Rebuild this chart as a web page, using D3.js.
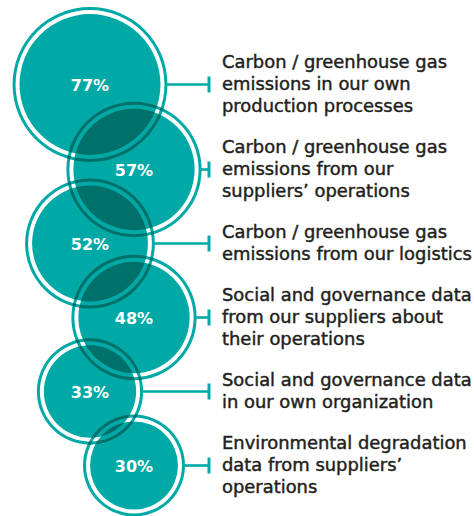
<!DOCTYPE html>
<html><head><meta charset="utf-8">
<script src="https://cdn.jsdelivr.net/npm/d3@7"></script>
<style>
html,body{margin:0;padding:0;background:#fff;}
svg{display:block;}
</style></head>
<body>
<svg id="chart" width="474" height="516"></svg>
<script>
// ---- data ----
const categories = [
  "Carbon / greenhouse gas emissions in our own production processes",
  "Carbon / greenhouse gas emissions from our suppliers’ operations",
  "Carbon / greenhouse gas emissions from our logistics",
  "Social and governance data from our suppliers about their operations",
  "Social and governance data in our own organization",
  "Environmental degradation data from suppliers’ operations"
];
const labelLines = [
  ["Carbon / greenhouse gas", "emissions in our own", "production processes"],
  ["Carbon / greenhouse gas", "emissions from our", "suppliers’ operations"],
  ["Carbon / greenhouse gas", "emissions from our logistics"],
  ["Social and governance data", "from our suppliers about", "their operations"],
  ["Social and governance data", "in our own organization"],
  ["Environmental degradation", "data from suppliers’", "operations"]
];
const values = [77, 57, 52, 48, 33, 30];

// ---- style / layout ----
const teal = "#00a9a5";
const tealDark = "#00706b";   // teal multiplied by itself
const textColor = "#231f20";
const labelX = 222, capH = 11, lineH = 22, blockGap = 30, firstTop = 57;
const colX = [90, 134];
const ringGap = 4, ringW = 3;
const tickX = 209, tickH = 16;
const labelFont = "'DejaVu Sans', Verdana, sans-serif";

const svg = d3.select("#chart");
const defs = svg.append("defs");
const r = d3.scaleSqrt().domain([0, 100]).range([0, 80.3]);

// stacked label blocks -> row centres
let blockTop = firstTop;
const rows = values.map((v, i) => {
  const n = labelLines[i].length;
  const h = capH + (n - 1) * lineH;
  const row = {i, v, lines: labelLines[i], top: blockTop, cy: blockTop + h / 2, cx: colX[i % 2], ri: r(v)};
  row.ro = row.ri + ringGap + ringW;
  blockTop += h + blockGap;
  return row;
});

// ring + disc as one even-odd path
function shapePath(d) {
  const p = d3.path();
  [d.ro, d.ro - ringW, d.ri].forEach(rad => {
    p.moveTo(d.cx + rad, d.cy);
    p.arc(d.cx, d.cy, rad, 0, 2 * Math.PI);
    p.closePath();
  });
  return p.toString();
}

defs.selectAll("clipPath").data(rows).join("clipPath")
  .attr("id", d => "clip" + d.i)
  .append("path")
  .attr("d", shapePath)
  .attr("clip-rule", "evenodd");

// base circles
svg.append("g").selectAll("path").data(rows).join("path")
  .attr("d", shapePath)
  .attr("fill-rule", "evenodd")
  .attr("fill", teal);

// darker overlaps between neighbouring circles
const pairs = d3.pairs(rows);
svg.append("g").selectAll("path").data(pairs).join("path")
  .attr("d", p => shapePath(p[1]))
  .attr("fill-rule", "evenodd")
  .attr("clip-path", p => `url(#clip${p[0].i})`)
  .attr("fill", tealDark);

// connectors
const conn = svg.append("g").attr("stroke", teal).attr("stroke-width", 2.6);
conn.selectAll("line.h").data(rows).join("line").attr("class", "h")
  .attr("x1", d => d.cx + d.ro - 1).attr("x2", tickX)
  .attr("y1", d => d.cy).attr("y2", d => d.cy);
conn.selectAll("line.v").data(rows).join("line").attr("class", "v")
  .attr("x1", tickX).attr("x2", tickX)
  .attr("y1", d => d.cy - tickH / 2).attr("y2", d => d.cy + tickH / 2)
  .attr("stroke-width", 3);

// percentage labels
svg.append("g").selectAll("text").data(rows).join("text")
  .attr("x", d => d.cx).attr("y", d => d.cy + 6)
  .attr("text-anchor", "middle")
  .attr("fill", "#fff")
  .attr("font-family", labelFont)
  .attr("font-weight", 700)
  .attr("font-size", 16)
  .text(d => d.v + "%");

// category labels
const lab = svg.append("g")
  .attr("font-family", labelFont)
  .attr("font-weight", 400)
  .attr("font-size", 16)
  .attr("fill", textColor)
  .attr("stroke", textColor)
  .attr("stroke-width", 0.45);
const texts = lab.selectAll("text").data(rows).join("text")
  .attr("x", labelX)
  .attr("y", d => d.top + capH);
texts.selectAll("tspan").data(d => d.lines).join("tspan")
  .attr("x", labelX)
  .attr("dy", (d, j) => j === 0 ? 0 : lineH)
  .text(d => d);

// fit font size: first line ~229px wide, no line wider than the space left
let maxW = 0;
texts.each(function () { maxW = Math.max(maxW, this.getBBox().width); });
const probe = lab.append("text").text(labelLines[0][0]);
const w = probe.node().getComputedTextLength();
probe.remove();
const fs = Math.min(16 * 229 / w, 16 * 250 / maxW);
lab.attr("font-size", fs.toFixed(2));
</script>
</body></html>
